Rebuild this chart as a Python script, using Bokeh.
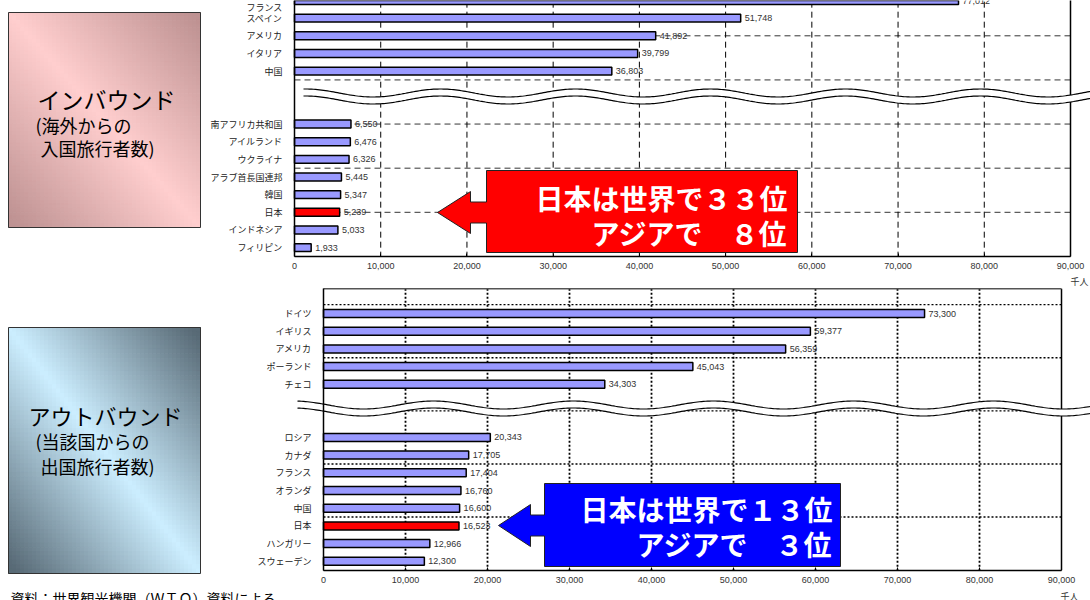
import numpy as np
from bokeh.plotting import figure
from bokeh.models import Range1d, FixedTicker, NumeralTickFormatter
from bokeh.layouts import column
from bokeh.embed import file_html
from bokeh.resources import INLINE
from bokeh.core.properties import value

# ---------------- data ----------------
in_countries_top = ["フランス", "スペイン", "アメリカ", "イタリア", "中国"]
in_values_top = [77012, 51748, 41892, 39799, 36803]
in_countries_bottom = ["南アフリカ共和国", "アイルランド", "ウクライナ", "アラブ首長国連邦",
                       "韓国", "日本", "インドネシア", "フィリピン"]
in_values_bottom = [6550, 6476, 6326, 5445, 5347, 5239, 5033, 1933]

out_countries_top = ["ドイツ", "イギリス", "アメリカ", "ポーランド", "チェコ"]
out_values_top = [73300, 59377, 56359, 45043, 34303]
out_countries_bottom = ["ロシア", "カナダ", "フランス", "オランダ", "中国", "日本",
                        "ハンガリー", "スウェーデン"]
out_values_bottom = [20343, 17705, 17404, 16760, 16600, 16523, 12966, 12300]

x_ticks = [0, 10000, 20000, 30000, 40000, 50000, 60000, 70000, 80000, 90000]
highlight = "日本"

in_title = ["インバウンド", "(海外からの", "入国旅行者数)"]
out_title = ["アウトバウンド", "(当該国からの", "出国旅行者数)"]
in_callout = ["日本は世界で３３位", "アジアで　８位"]
out_callout = ["日本は世界で１３位", "アジアで　３位"]
unit_label = "千人"
source_note = "資料：世界観光機関（ＷＴＯ）資料による"

JP = value("Noto Sans CJK JP")
LAT = value("Liberation Sans")
W = 1090


def hexcol(c):
    return "#%02x%02x%02x" % tuple(int(round(v)) for v in c)


def make_chart(cfg):
    X0, X1, S0, D = cfg["X0"], cfg["X1"], cfg["S0"], cfg["D"]
    ftop, H = cfg["fig_top"], cfg["height"]
    T, B = ftop, ftop + H
    XMAX = x_ticks[-1]
    K = (X1 - X0) / XMAX

    def fx(px):
        return (np.asarray(px, dtype=float) - X0) / K

    def fy(py):
        return (np.asarray(py, dtype=float) - S0) / D

    p = figure(width=W, height=H, output_backend="svg", toolbar_location=None,
               x_range=Range1d(float(fx(0)), float(fx(W))),
               y_range=Range1d(float(fy(B)), float(fy(T))),
               min_border_left=0, min_border_right=0,
               min_border_top=0, min_border_bottom=0)
    p.outline_line_color = None
    p.grid.visible = False
    p.background_fill_color = "white"
    p.border_fill_color = "white"

    names = cfg["top_names"] + cfg["bottom_names"]
    vals = cfg["top_vals"] + cfg["bottom_vals"]
    nt = len(cfg["top_names"])
    slots = list(range(nt)) + list(range(nt + 2, nt + 2 + len(cfg["bottom_names"])))
    axis_slot = slots[-1] + 0.5

    # ---- gradient box (left panel) ----
    bx0, by0, bx1, by1 = cfg["box"]
    nx, ny = 48, 56
    xs_e = np.linspace(bx0, bx1, nx + 1)
    ys_e = np.linspace(by0, by1, ny + 1)
    L, R, Tq, Bq, C = [], [], [], [], []
    light = np.array(cfg["light"], float)
    dark = np.array(cfg["dark"], float)
    for i in range(nx):
        for j in range(ny):
            u = (i + 0.5) / nx
            v = (j + 0.5) / ny
            t = min(1.0, abs(u - v) * 1.05)
            col = light + (dark - light) * t
            L.append(xs_e[i]); R.append(xs_e[i + 1])
            Tq.append(ys_e[j]); Bq.append(ys_e[j + 1])
            C.append(hexcol(col))
    p.quad(left=fx(L), right=fx(R), top=fy(Tq), bottom=fy(Bq),
           fill_color=C, line_color=C, line_width=1)
    p.patch(fx([bx0, bx1, bx1, bx0, bx0]), fy([by0, by0, by1, by1, by0]),
            fill_color=None, line_color="#333333", line_width=1)
    for (txt, (tx, ty, fs)) in zip(cfg["title"], cfg["title_pos"]):
        p.text(x=[float(fx(tx))], y=[float(fy(ty))], text=[txt], text_font=JP,
               text_font_size=fs, text_baseline="middle", text_align="left",
               text_color="black")

    # ---- grid lines ----
    top_slot = cfg["top_slot"]
    inner = x_ticks[1:-1]
    p.segment(x0=inner, x1=inner, y0=[top_slot] * len(inner), y1=[axis_slot] * len(inner),
              line_color="black", line_width=cfg["gw"], line_dash=cfg["dash"])
    hs = cfg["hgrid"]
    p.segment(x0=[0] * len(hs), x1=[XMAX] * len(hs), y0=hs, y1=hs,
              line_color="black", line_width=cfg["gw"] * 0.8, line_dash=cfg["dash"])
    p.segment(x0=[XMAX], x1=[XMAX], y0=[top_slot], y1=[axis_slot],
              line_color="black", line_width=1.5)
    if cfg["top_border"]:
        p.segment(x0=[0], x1=[XMAX], y0=[top_slot], y1=[top_slot],
                  line_color="#555555", line_width=1.5)

    # ---- wave break ----
    wx = np.arange(cfg["wave_start"], W + 2, 2.0)
    yc = cfg["wave_y"] - 4.0 * np.cos(2 * np.pi * (wx - cfg["wave_peak"]) / cfg["wave_period"])
    p.varea(x=fx(wx), y1=fy(yc - 3.5), y2=fy(yc + 3.5), fill_color="white")
    p.line(fx(wx), fy(yc - 3.5), line_color="black", line_width=1.2)
    p.line(fx(wx), fy(yc + 3.5), line_color="black", line_width=1.2)

    # ---- bars ----
    colors = ["#ff0000" if n == highlight else "#9999ff" for n in names]
    p.hbar(y=slots, left=0, right=vals, height=0.45, fill_color=colors,
           line_color="black", line_width=1.5)
    p.text(x=vals, y=slots, text=["{:,}".format(v) for v in vals], x_offset=4,
           text_font=LAT, text_font_size="9px", text_baseline="middle",
           text_color="#333333")

    # ---- axes ----
    xa = p.xaxis[0]
    xa.fixed_location = axis_slot
    xa.ticker = FixedTicker(ticks=x_ticks)
    xa.formatter = NumeralTickFormatter(format="0,0")
    xa.bounds = (0, XMAX)
    xa.major_tick_in = 3
    xa.major_tick_out = 0
    xa.minor_tick_line_color = None
    xa.axis_line_width = 1.5
    xa.major_label_text_font_size = "9px"
    xa.major_label_text_font = "Liberation Sans"
    xa.major_label_text_color = "#333333"
    xa.major_label_standoff = 7

    ya = p.yaxis[0]
    ya.fixed_location = 0
    ya.ticker = FixedTicker(ticks=slots)
    ya.major_label_overrides = {s: n for s, n in zip(slots, names)}
    ya.major_tick_line_color = None
    ya.minor_tick_line_color = None
    ya.axis_line_width = 1.5
    ya.bounds = (top_slot, axis_slot)
    ya.major_label_text_font_size = "9px"
    ya.major_label_text_font = "Noto Sans CJK JP"
    ya.major_label_text_color = "#222222"
    ya.major_label_standoff = 6

    # ---- callout ----
    tipx, tipy, hb, rl, rr, rt, rb = cfg["callout"]
    pts = [(tipx, tipy), (hb, tipy - 21), (hb, tipy - 10.5), (rl, tipy - 10.5), (rl, rt),
           (rr, rt), (rr, rb), (rl, rb), (rl, tipy + 10.5), (hb, tipy + 10.5), (hb, tipy + 21)]
    p.patch(fx([q[0] for q in pts]), fy([q[1] for q in pts]), fill_color=cfg["ccolor"],
            line_color="#222222", line_width=1)
    tx, ty1, ty2 = cfg["ctext"]
    p.text(x=[float(fx(tx))] * 2, y=[float(fy(ty1)), float(fy(ty2))], text=cfg["ctexts"],
           text_font=JP, text_font_style="bold", text_font_size="28px",
           text_align="right", text_baseline="middle", text_color="white")

    # ---- unit label ----
    ux, uy = cfg["unit_pos"]
    p.text(x=[float(fx(ux))], y=[float(fy(uy))], text=[unit_label], text_font=JP,
           text_font_size="9px", text_align="center", text_baseline="middle",
           text_color="#333333")
    return p, fx, fy


top_cfg = dict(X0=294, X1=1070, S0=0, D=17.65, fig_top=0, height=287,
               top_names=in_countries_top, top_vals=in_values_top,
               bottom_names=in_countries_bottom, bottom_vals=in_values_bottom,
               box=(8, 12, 200, 227), light=(255, 206, 206), dark=(190, 146, 146),
               title=in_title,
               title_pos=[(37, 98, "23px"), (35, 124, "18px"), (40, 147, "18px")],
               top_slot=-0.5, hgrid=[2, 4.5, 7, 9.5, 12], gw=1.0, dash="6 4",
               top_border=False,
               wave_start=303, wave_y=96, wave_peak=440, wave_period=135,
               callout=(437, 212, 470, 486, 797, 170, 252), ccolor="#ff0000",
               ctext=(787, 197, 232), ctexts=in_callout,
               unit_pos=(1079, 281))

bot_cfg = dict(X0=323, X1=1061, S0=313, D=17.7, fig_top=287, height=313,
               top_names=out_countries_top, top_vals=out_values_top,
               bottom_names=out_countries_bottom, bottom_vals=out_values_bottom,
               box=(8, 327, 200, 573), light=(204, 238, 255), dark=(88, 106, 118),
               title=out_title,
               title_pos=[(28, 414, "22px"), (35, 440, "18px"), (40, 465, "18px")],
               top_slot=-1.40, hgrid=[-0.5, 2.5, 5.5, 8.5, 11.5], gw=1.8, dash="2 2",
               top_border=True,
               wave_start=297, wave_y=408, wave_peak=433, wave_period=140,
               callout=(498, 525, 530, 544, 840, 483, 566), ccolor="#0000ff",
               ctext=(832, 508, 543), ctexts=out_callout,
               unit_pos=(1069, 596))

p1, fx1, fy1 = make_chart(top_cfg)
p2, fx2, fy2 = make_chart(bot_cfg)

p2.text(x=[float(fx2(10))], y=[float(fy2(597))], text=[source_note], text_font=JP,
        text_font_size="14px", text_align="left", text_baseline="middle",
        text_color="black")

layout = column(p1, p2, spacing=0)
open("out.html", "w").write(file_html(layout, INLINE))
